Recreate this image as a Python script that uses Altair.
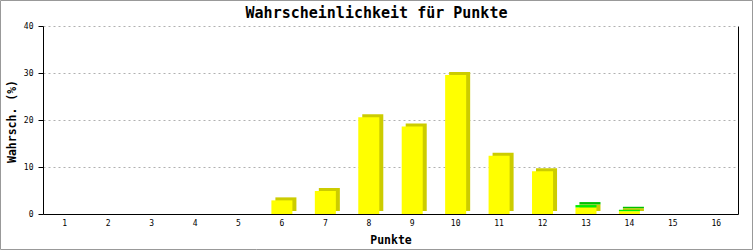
import altair as alt
import pandas as pd

points = list(range(1, 17))
yellow = [0, 0, 0, 0, 0, 2.9, 4.9, 20.6, 18.6, 29.6, 12.4, 9.1, 1.4, 0.6, 0, 0]
green = [0, 0, 0, 0, 0, 0, 0, 0, 0, 0, 0, 0, 0.5, 0.3, 0, 0]
series = ["A", "B"]
y_ticks = [0, 10, 20, 30, 40]

rows = []
for p, a, b in zip(points, yellow, green):
    rows.append({"Punkte": p, "Serie": series[0], "Wert": a, "ord": 0})
    rows.append({"Punkte": p, "Serie": series[1], "Wert": b, "ord": 1})
df = pd.DataFrame(rows)

MONO = "DejaVu Sans Mono"

x_scale = alt.Scale(domain=points, paddingInner=0.516, paddingOuter=0.258)
y_scale = alt.Scale(domain=[0, 40])

base = alt.Chart(df).transform_filter("datum.Wert > 0")

shadow = base.mark_bar(xOffset=4, x2Offset=4, yOffset=-3).encode(
    x=alt.X("Punkte:O", scale=x_scale, sort=points,
            axis=alt.Axis(title="Punkte", labelAngle=0, ticks=False, tickSize=0,
                          labelPadding=5, titleX=347.5, titleY=29.5,
                          titleBaseline="alphabetic")),
    y=alt.Y("Wert:Q", stack="zero", scale=y_scale,
            axis=alt.Axis(title="Wahrsch. (%)", values=y_ticks, tickSize=5,
                          labelPadding=5, grid=True, gridColor="#b0b0b0",
                          gridDash=[2, 3], titleX=-31, titleY=95,
                          titleBaseline="middle", titleAngle=270)),
    color=alt.Color("Serie:N", scale=alt.Scale(domain=series, range=["#cccc00", "#00c000"]), legend=None),
    order=alt.Order("ord:Q"),
)

front = base.mark_bar().encode(
    x=alt.X("Punkte:O", scale=x_scale, sort=points),
    y=alt.Y("Wert:Q", stack="zero", scale=y_scale,
            axis=alt.Axis(orient="right", title=None, labels=False, ticks=False,
                          grid=False, domainColor="black")),
    color=alt.Color("Serie:N", scale=alt.Scale(domain=series, range=["#ffff00", "#00ee00"]), legend=None),
    order=alt.Order("ord:Q"),
)

border = alt.Chart(alt.Data(values=[{"k": 1}])).mark_rect(
    filled=False, stroke="#999999", strokeWidth=1
).encode(
    x=alt.value(-42.5), x2=alt.value(709.5), y=alt.value(-25.5), y2=alt.value(223.5)
)

chart = alt.layer(shadow, front, border).resolve_scale(
    y="independent", color="independent"
).properties(
    width=695,
    height=188,
    autosize=alt.AutoSizeParams(type="none"),
    padding={"left": 43, "top": 26, "right": 15, "bottom": 36},
    background="white",
    title=alt.TitleParams(
        "Wahrscheinlichkeit für Punkte", font=MONO, fontSize=15, fontWeight="bold",
        frame="group", anchor="middle", dx=-14, offset=0, dy=21,
        color="black",
    ),
).configure_view(stroke=None).configure_axis(
    domainColor="black", tickColor="black", labelColor="black", titleColor="black",
    labelFont=MONO, labelFontSize=8, titleFont=MONO, titleFontSize=11.5,
    titleFontWeight="bold", domainWidth=1,
)

chart.save("out.html", embed_options={"renderer": "svg", "actions": False})
